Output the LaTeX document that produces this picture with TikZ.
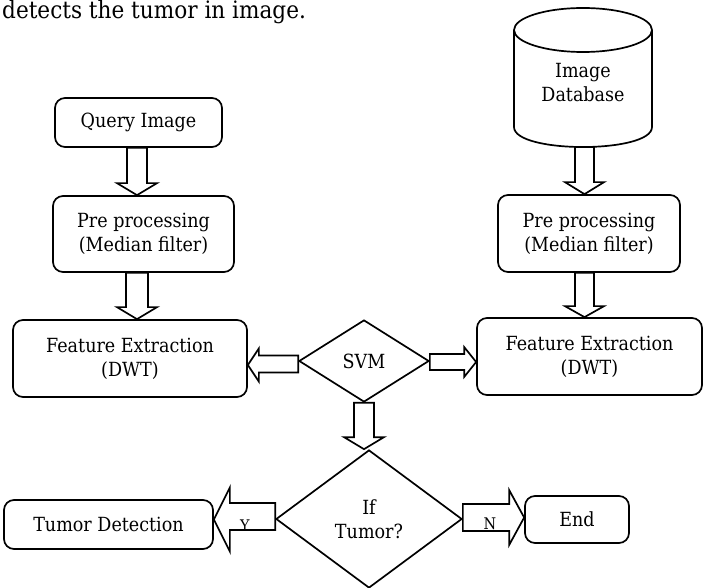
\documentclass[tikz,border=0pt]{standalone}
\usepackage{fontspec}
\setmainfont{DejaVu Serif}[FakeStretch=0.9]
\usetikzlibrary{calc,shapes.geometric}
\tikzset{
  ln/.style={line width=1.7pt, line join=miter},
  txt/.style={font=\fontsize{19.5}{24}\selectfont},
  boxr/.style={ln, draw, rounded corners=10pt, align=center, inner sep=0pt, txt},
  dia/.style={ln, draw, diamond, inner sep=0pt, align=center, txt},
  blk/.style={ln, draw, fill=white},
  lbl/.style={font=\fontsize{16}{18}\selectfont, inner sep=0pt}
}
% vertical block arrow (downward): #1 start, #2 end, #3 shaft half, #4 head half, #5 head length
\newcommand\varrow[5]{%
  \draw[blk] let \p1=(#1), \p2=(#2) in
   (\x1-#3pt,\y1) -- (\x1-#3pt,\y2+#5pt) -- (\x1-#4pt,\y2+#5pt) -- (\x1,\y2)
   -- (\x1+#4pt,\y2+#5pt) -- (\x1+#3pt,\y2+#5pt) -- (\x1+#3pt,\y1) -- cycle;}
% horizontal block arrow: #1 start, #2 end, #3 shaft half, #4 head half, #5 signed head length, #6 y offset of head
\newcommand\harrow[6]{%
  \draw[blk] let \p1=(#1), \p2=(#2) in
   (\x1,\y1+#3pt) -- (\x2-#5pt,\y1+#3pt) -- (\x2-#5pt,\y1+#6pt+#4pt) -- (\x2,\y1+#6pt)
   -- (\x2-#5pt,\y1+#6pt-#4pt) -- (\x2-#5pt,\y1-#3pt) -- (\x1,\y1-#3pt) -- cycle;}
\begin{document}
\begin{tikzpicture}[x=1pt,y=-1pt]
\useasboundingbox (0,0) rectangle (705,588);
\node[anchor=base west, inner sep=0pt, font=\fontsize{24}{28}\selectfont] (hdr) at (2,19) {detects the tumor in image.};
% left column
\node[boxr, minimum width=167pt, minimum height=49pt] (q) at (138.5,122.5) {Query Image};
\node[boxr, minimum width=181pt, minimum height=76pt] (p1) at (143.5,234) {Pre processing\\(Median filter)};
\node[boxr, minimum width=234pt, minimum height=77pt] (f1) at (130,358.5) {Feature Extraction\\(DWT)};
% database
\draw[ln] (583,30) ellipse [x radius=69, y radius=22];
\draw[ln] (514,30) -- (514,127) .. controls (514,153.7) and (652,153.7) .. (652,127) -- (652,30);
\node[inner sep=0pt, align=center, txt] (db) at (583,83) {Image\\Database};
\coordinate (dbb) at (584.5,147);
% right column
\node[boxr, minimum width=182pt, minimum height=77pt] (p2) at (589,233.5) {Pre processing\\(Median filter)};
\node[boxr, minimum width=225pt, minimum height=77pt] (f2) at (589.5,356.5) {Feature Extraction\\(DWT)};
% diamonds
\node[dia, minimum width=130pt, minimum height=82pt] (svm) at (364,361) {SVM};
\node[dia, minimum width=186pt, minimum height=138pt] (tum) at (369,519) {If\\Tumor?};
% bottom boxes
\node[boxr, minimum width=209pt, minimum height=49pt] (td) at (108.5,524.5) {Tumor Detection};
\node[boxr, minimum width=104pt, minimum height=47pt] (end) at (577,519.5) {End};
% block arrows
\varrow{$(q.south)+(-1.5,0)$}{p1.north}{10}{20}{12}
\varrow{$(p1.south)+(-6.5,0)$}{f1.north}{11}{20}{12}
\varrow{dbb}{p2.north}{9.5}{19.5}{12}
\varrow{$(p2.south)+(-4.5,0)$}{f2.north}{9.5}{19.5}{11}
\varrow{svm.south}{tum.north}{10}{20}{12}
\harrow{$(svm.west)+(0,3)$}{f1.east}{8.5}{16.5}{-11}{-1}
\harrow{$(svm.east)+(0,1)$}{f2.east -| f2.west}{8}{15}{12}{0}
\harrow{$(tum.west)+(0,-2.5)$}{td.east}{13.5}{32}{-16}{-3}
\harrow{$(tum.east)+(0,-1.5)$}{end.west}{13.5}{27.5}{15}{0}
\node[lbl] (ylab) at (245,526) {Y};
\node[lbl] (nlab) at (490,524) {N};
\end{tikzpicture}
\end{document}
